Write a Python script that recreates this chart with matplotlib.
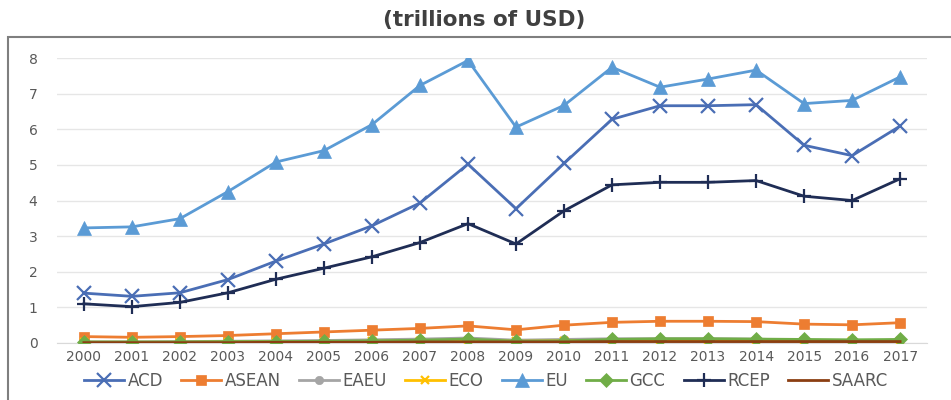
import matplotlib
matplotlib.use("Agg")
import matplotlib.pyplot as plt
from matplotlib.patches import Rectangle

years = list(range(2000, 2018))
year_labels = [str(y) for y in years]

acd = [1.40, 1.31, 1.41, 1.78, 2.30, 2.78, 3.29, 3.93, 5.02, 3.77, 5.04, 6.28, 6.66, 6.66, 6.69, 5.55, 5.26, 6.09]
asean = [0.18, 0.16, 0.18, 0.21, 0.26, 0.31, 0.36, 0.41, 0.48, 0.37, 0.50, 0.58, 0.61, 0.61, 0.60, 0.53, 0.51, 0.57]
eaeu = [0.03, 0.03, 0.04, 0.05, 0.06, 0.07, 0.09, 0.11, 0.14, 0.08, 0.10, 0.12, 0.12, 0.12, 0.11, 0.07, 0.06, 0.08]
eco = [0.02, 0.02, 0.02, 0.03, 0.03, 0.04, 0.05, 0.06, 0.07, 0.05, 0.06, 0.07, 0.07, 0.07, 0.07, 0.05, 0.05, 0.06]
eu = [3.23, 3.26, 3.49, 4.25, 5.08, 5.40, 6.13, 7.23, 7.93, 6.06, 6.67, 7.74, 7.18, 7.41, 7.66, 6.72, 6.81, 7.47]
gcc = [0.03, 0.03, 0.03, 0.04, 0.04, 0.05, 0.06, 0.08, 0.11, 0.05, 0.06, 0.10, 0.12, 0.12, 0.11, 0.10, 0.09, 0.10]
rcep = [1.10, 1.02, 1.14, 1.41, 1.79, 2.10, 2.42, 2.82, 3.35, 2.78, 3.71, 4.44, 4.51, 4.51, 4.56, 4.12, 4.00, 4.61]
saarc = [0.01, 0.01, 0.01, 0.01, 0.02, 0.02, 0.02, 0.03, 0.03, 0.03, 0.03, 0.04, 0.04, 0.04, 0.04, 0.04, 0.04, 0.04]

series_names = ["ACD", "ASEAN", "EAEU", "ECO", "EU", "GCC", "RCEP", "SAARC"]
series_values = [acd, asean, eaeu, eco, eu, gcc, rcep, saarc]
colors = ["#4A6EB5", "#ED7D31", "#A5A5A5", "#FFC000", "#5B9BD5", "#70AD47", "#1F2D55", "#8B3E12"]
markers = ["x", "s", "o", "x", "^", "D", "+", None]
msizes = [10, 7, 6, 6, 10, 7, 10, 0]

plt.rcParams['font.family'] = ['DejaVu Sans']

fig = plt.figure(figsize=(9.51, 4.0), dpi=100)
ax = fig.add_axes([57/951, 1 - 343/400, (927 - 57)/951, (343 - 58)/400])

x = list(range(len(years)))
for name, vals, c, m, ms in zip(series_names, series_values, colors, markers, msizes):
    ax.plot(x, vals, color=c, lw=2, marker=m, markersize=ms,
            markeredgewidth=1.6 if m in ("x", "+") else 0.5,
            markeredgecolor=c, markerfacecolor=c, label=name, zorder=3)

ax.set_xlim(-0.56, 17.56)
ax.set_ylim(0, 8)
ax.set_yticks(range(0, 9))
ax.set_xticks(x)
ax.set_xticklabels(year_labels)
ax.grid(axis='y', color='#E6E6E6', lw=1)
ax.set_axisbelow(True)
for s in ["top", "right", "left"]:
    ax.spines[s].set_visible(False)
ax.spines["bottom"].set_color("#D9D9D9")
ax.tick_params(axis='both', length=0, colors='#595959', labelsize=10)
ax.tick_params(axis='y', pad=14)
ax.tick_params(axis='x', pad=5)

fig.text(484/951, 1 - 20/400, "(trillions of USD)", ha='center', va='center',
         fontsize=15.5, fontweight='bold', color='#404040')

fig.patches.append(Rectangle((8/951, -0.1), 1.2, 1 - 37/400 + 0.1, transform=fig.transFigure,
                             fill=False, edgecolor='#7F7F7F', lw=1.5, zorder=0))

handles, labels = ax.get_legend_handles_labels()
leg = fig.legend(handles, labels, loc='center', bbox_to_anchor=(486/951, 1 - 381/400),
                 ncol=8, frameon=False, fontsize=12, handlelength=2.4,
                 columnspacing=1.1, handletextpad=0.2, labelcolor='#595959',
                 borderaxespad=0, borderpad=0)

fig.savefig("out.png", dpi=100)
